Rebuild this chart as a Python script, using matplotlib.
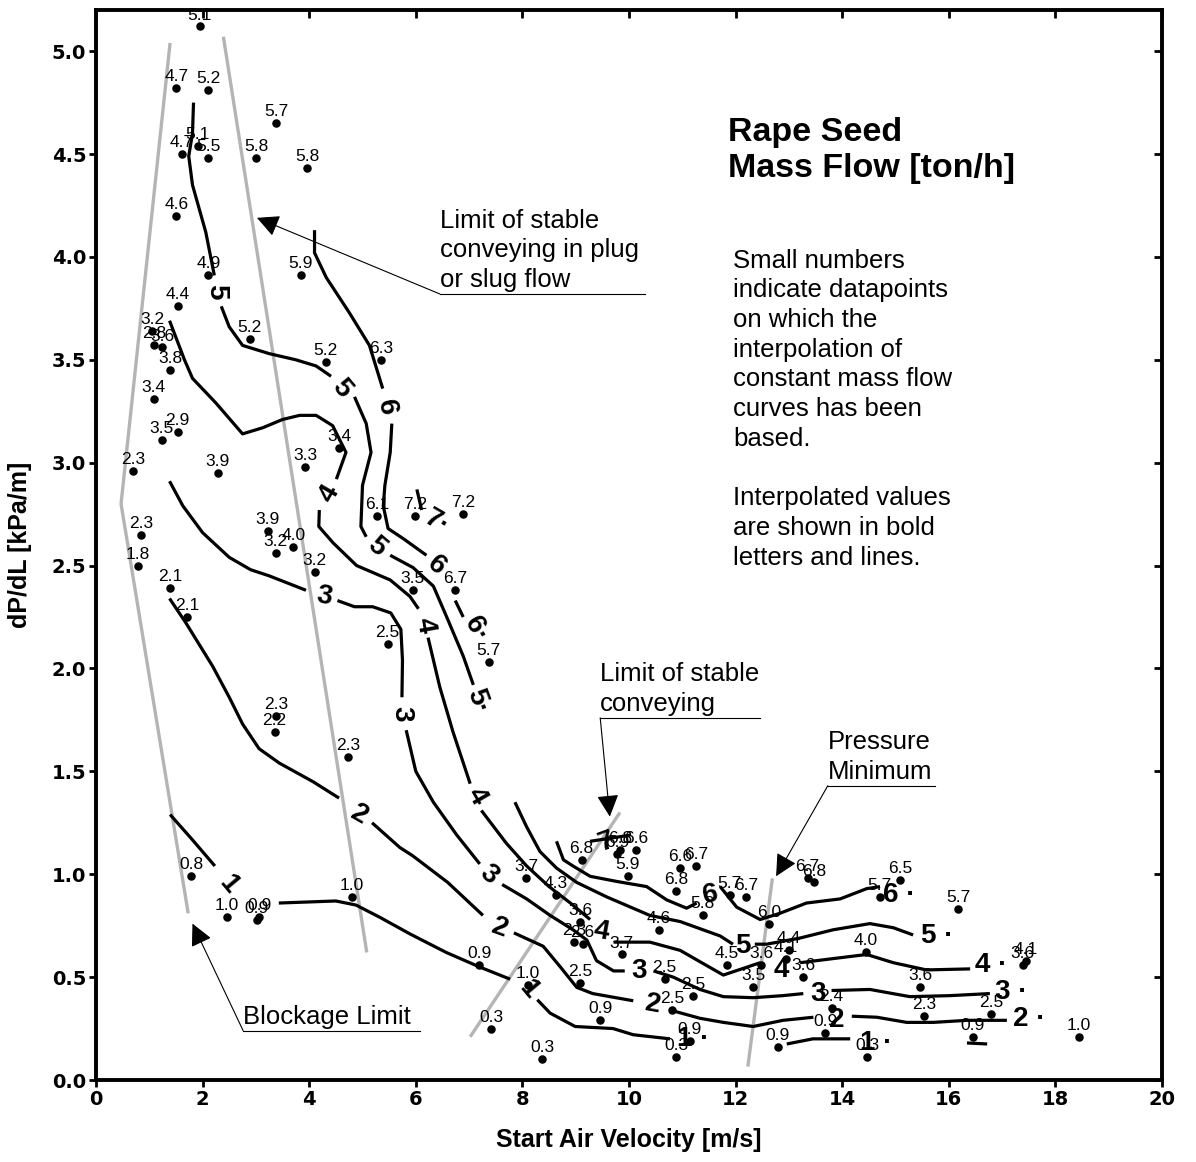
import numpy as np
import matplotlib
matplotlib.use('Agg')
import matplotlib.pyplot as plt

plt.rcParams['font.family'] = ['Liberation Sans', 'DejaVu Sans']
nan = np.nan

# measured data points (velocity, pressure gradient, mass flow label)
pts_x = [1.95, 1.51, 2.10, 3.38, 1.61, 1.91, 2.11, 3.01, 3.96, 1.51, 2.11, 3.84,
         1.54, 1.06, 1.09, 1.24, 1.39, 1.08, 1.23, 1.53, 0.69, 2.28, 3.92, 4.56,
         0.84, 0.79, 3.22, 3.70, 3.37, 4.10, 2.88, 4.31, 5.35, 5.27, 5.98, 6.88,
         5.94, 6.74, 5.47, 7.37, 4.73, 1.39, 1.71, 3.38, 3.35, 1.79, 2.46, 3.02,
         3.06, 4.80, 8.07, 8.63, 9.11, 9.09, 8.97, 9.13, 7.19, 8.10, 7.41, 8.37,
         9.09, 9.46, 9.86, 10.56, 9.98, 9.78, 9.83, 10.14, 11.84, 10.67, 11.21,
         10.81, 11.14, 10.89, 10.96, 11.26, 10.88, 11.38, 11.89, 12.20, 12.63,
         13.35, 13.48, 15.08, 14.70, 16.18, 12.48, 13.00, 12.95, 12.33, 13.27,
         14.45, 15.46, 13.80, 13.68, 15.54, 12.79, 14.47, 16.79, 16.45, 17.39,
         17.45, 18.44]
pts_y = [5.12, 4.82, 4.81, 4.65, 4.50, 4.54, 4.48, 4.48, 4.43, 4.20, 3.91, 3.91,
         3.76, 3.64, 3.57, 3.56, 3.45, 3.31, 3.11, 3.15, 2.96, 2.95, 2.98, 3.07,
         2.65, 2.50, 2.67, 2.59, 2.56, 2.47, 3.60, 3.49, 3.50, 2.74, 2.74, 2.75,
         2.38, 2.38, 2.12, 2.03, 1.57, 2.39, 2.25, 1.77, 1.69, 0.99, 0.79, 0.78,
         0.79, 0.89, 0.98, 0.90, 1.07, 0.77, 0.67, 0.66, 0.56, 0.46, 0.25, 0.10,
         0.47, 0.29, 0.61, 0.73, 0.99, 1.10, 1.12, 1.12, 0.56, 0.49, 0.41,
         0.34, 0.19, 0.11, 1.03, 1.04, 0.92, 0.80, 0.90, 0.89, 0.76,
         0.98, 0.96, 0.97, 0.89, 0.83, 0.56, 0.63, 0.59, 0.45, 0.50,
         0.62, 0.45, 0.35, 0.23, 0.31, 0.16, 0.11, 0.32, 0.21, 0.56,
         0.58, 0.21]
pts_lbl = ['5.1', '4.7', '5.2', '5.7', '4.7', '5.1', '5.5', '5.8', '5.8', '4.6', '4.9', '5.9',
           '4.4', '3.2', '2.8', '3.6', '3.8', '3.4', '3.5', '2.9', '2.3', '3.9', '3.3', '3.4',
           '2.3', '1.8', '3.9', '4.0', '3.2', '3.2', '5.2', '5.2', '6.3', '6.1', '7.2', '7.2',
           '3.5', '6.7', '2.5', '5.7', '2.3', '2.1', '2.1', '2.3', '2.2', '0.8', '1.0', '0.9',
           '0.9', '1.0', '3.7', '4.3', '6.8', '3.6', '2.3', '2.6', '0.9', '1.0', '0.3', '0.3',
           '2.5', '0.9', '3.7', '4.6', '5.9', '6.9', '6.8', '6.6', '4.5', '2.5', '2.5',
           '2.5', '0.9', '0.3', '6.6', '6.7', '6.8', '5.8', '5.7', '6.7', '6.0',
           '6.7', '6.8', '6.5', '5.7', '5.7', '3.6', '4.4', '4.1', '3.5', '3.6',
           '4.0', '3.6', '2.4', '0.9', '2.3', '0.9', '0.3', '2.5', '0.9', '3.6',
           '4.1', '1.0']

# interpolated constant mass flow curves (nan separates pieces around labels)
c1_x = [1.39, 1.80, 2.23, nan, 3.43, 4.50, 4.88, 5.33, 5.89, 6.57, 7.19, 7.77, nan,
        8.28, 8.52, 8.99, 9.70, 10.08, 10.77, nan, 12.96, 13.45, 14.15, nan, 16.34, 16.72]
c1_y = [1.29, 1.17, 1.04, nan, 0.86, 0.87, 0.85, 0.79, 0.71, 0.62, 0.55, 0.49, nan,
        0.39, 0.325, 0.26, 0.25, 0.22, 0.20, nan, 0.175, 0.20, 0.20, nan, 0.18, 0.175]

c2_x = [1.38, 1.69, 2.19, 2.50, 2.75, 3.06, 3.44, 4.07, 4.56, nan,
        5.18, 5.70, 5.94, 6.60, 7.26, nan,
        7.84, 8.39, 8.71, 9.02, 9.32, 10.08, nan,
        10.77, 11.33, 11.77, 12.33, 12.89, 13.46, nan,
        14.18, 14.65, 15.21, 15.71, 16.34, 17.09]
c2_y = [2.34, 2.22, 2.01, 1.86, 1.73, 1.61, 1.54, 1.45, 1.37, nan,
        1.25, 1.13, 1.09, 0.96, 0.80, nan,
        0.715, 0.65, 0.55, 0.45, 0.42, 0.385, nan,
        0.34, 0.30, 0.28, 0.26, 0.29, 0.305, nan,
        0.31, 0.305, 0.28, 0.28, 0.29, 0.29]

c3_x = [1.38, 1.63, 2.00, 2.50, 2.90, 3.25, 3.94, nan,
        4.53, 4.85, 5.19, 5.53, 5.72, 5.75, 5.74, nan,
        5.82, 6.00, 6.33, 6.77, 7.20, nan,
        7.62, 8.08, 8.52, 8.95, 9.21, 9.39, 9.71, 9.92, nan,
        10.46, 10.83, 11.33, 11.77, 12.33, 12.89, 13.27, nan,
        13.80, 14.52, 15.27, 16.02, 16.77]
c3_y = [2.91, 2.79, 2.66, 2.54, 2.48, 2.45, 2.38, nan,
        2.33, 2.30, 2.30, 2.27, 2.19, 2.04, 1.86, nan,
        1.70, 1.50, 1.35, 1.19, 1.05, nan,
        0.95, 0.88, 0.80, 0.73, 0.68, 0.58, 0.53, 0.53, nan,
        0.53, 0.50, 0.44, 0.405, 0.40, 0.41, 0.42, nan,
        0.435, 0.44, 0.405, 0.41, 0.42]

c4_x = [1.38, 1.66, 1.81, 2.25, 2.75, 3.13, 3.50, 3.82, 4.13, 4.44, 4.69, 4.51, nan,
        4.19, 4.18, 4.45, 4.89, 5.52, 5.89, 6.05, nan,
        6.23, 6.45, 6.70, 7.02, nan,
        7.23, 7.70, 8.08, 8.50, 8.90, 9.27, nan,
        9.71, 10.39, 10.96, 11.33, 11.77, 12.46, nan,
        13.21, 13.83, 14.46, 14.96, 15.58, 16.40]
c4_y = [3.69, 3.50, 3.41, 3.29, 3.14, 3.17, 3.21, 3.23, 3.23, 3.18, 3.05, 2.92, nan,
        2.77, 2.69, 2.61, 2.50, 2.43, 2.35, 2.29, nan,
        2.15, 1.91, 1.69, 1.44, nan,
        1.31, 1.15, 1.04, 0.94, 0.86, 0.78, nan,
        0.67, 0.67, 0.63, 0.575, 0.51, 0.57, nan,
        0.57, 0.59, 0.61, 0.57, 0.535, 0.54]

c5_x = [1.83, 1.81, 1.74, 1.81, 2.06, 2.22, nan,
        2.35, 2.50, 2.75, 3.25, 3.75, 4.13, 4.41, nan,
        4.85, 5.07, 5.16, 5.00, 4.97, 5.07, nan,
        5.52, 5.95, 6.33, 6.58, 6.89, 7.08, nan,
        7.86, 8.08, 8.33, 8.64, 9.02, 9.58, 10.39, 10.96, 11.71, 11.95, nan,
        12.36, 12.58, 13.21, 13.83, 14.52, 14.96, 15.33]
c5_y = [4.75, 4.60, 4.49, 4.35, 4.12, 3.91, nan,
        3.76, 3.66, 3.57, 3.53, 3.50, 3.47, 3.42, nan,
        3.32, 3.19, 3.05, 2.89, 2.69, 2.64, nan,
        2.55, 2.49, 2.40, 2.25, 2.06, 1.92, nan,
        1.35, 1.23, 1.11, 1.03, 0.96, 0.89, 0.80, 0.77, 0.70, 0.66, nan,
        0.66, 0.66, 0.69, 0.73, 0.76, 0.74, 0.705]

c6_x = [4.10, 4.10, 4.32, 4.75, 5.13, 5.38, nan,
        5.55, 5.52, 5.42, 5.39, 5.48, 5.77, 6.20, nan,
        6.74, 6.89, nan,
        8.64, 8.77, 8.95, 9.27, 9.77, 10.33, 10.71, 11.08, 11.27, nan,
        11.71, 12.02, 12.46, 12.83, 13.33, 13.96, 14.46, 14.71]
c6_y = [4.13, 4.02, 3.90, 3.73, 3.57, 3.36, nan,
        3.19, 3.05, 2.89, 2.79, 2.68, 2.63, 2.55, nan,
        2.33, 2.25, nan,
        1.16, 1.07, 1.04, 0.99, 0.965, 0.94, 0.875, 0.835, 0.86, nan,
        0.94, 0.84, 0.78, 0.81, 0.86, 0.88, 0.93, 0.94]

c7_x = [6.02, 6.11, nan, 9.27, 10.02]
c7_y = [2.87, 2.77, nan, 1.16, 1.19]

# inline curve labels: x, y, text, rotation
lab_x = [2.48, 8.11, 11.20, 14.64,
         4.94, 7.58, 10.45, 13.90, 17.50,
         4.28, 5.72, 7.36, 10.19, 13.55, 17.17,
         4.38, 6.17, 7.14, 9.49, 12.86, 16.79,
         2.25, 4.60, 5.27, 7.16, 12.14, 15.78,
         5.44, 6.39, 7.13, 11.52, 15.07,
         6.40, 9.58]
lab_y = [0.95, 0.44, 0.20, 0.18,
         1.29, 0.74, 0.365, 0.29, 0.295,
         2.35, 1.78, 1.00, 0.53, 0.42, 0.43,
         2.85, 2.21, 1.38, 0.72, 0.535, 0.56,
         3.83, 3.36, 2.59, 1.84, 0.65, 0.70,
         3.27, 2.50, 2.19, 0.90, 0.90,
         2.71, 1.16]
lab_txt = ['1', '1', '1 \u00b7', '1 \u00b7',
           '2', '2', '2', '2', '2 \u00b7',
           '3', '3', '3', '3', '3', '3 \u00b7',
           '4', '4', '4', '4', '4', '4 \u00b7',
           '5', '5', '5', '5\u00b7', '5', '5 \u00b7',
           '6', '6', '6\u00b7', '6', '6 \u00b7',
           '7\u00b7', '7']
lab_rot = [-50, -50, 0, 0,
           -30, -20, -10, 0, 0,
           -10, -90, -40, 0, 0, 0,
           60, -80, -60, -10, 0, 0,
           -90, -50, -40, -70, 0, 0,
           -80, -40, -60, 10, 0,
           -30, 20]

# grey limit lines
plug_left_x = [1.39, 0.47, 1.73]
plug_left_y = [5.04, 2.80, 0.81]
plug_right_x = [2.39, 5.08]
plug_right_y = [5.07, 0.62]
stable_x = [7.02, 9.83]
stable_y = [0.21, 1.30]
pmin_x = [12.23, 12.69]
pmin_y = [0.065, 0.98]

fig = plt.figure(figsize=(11.96, 11.62), dpi=100)
ax = fig.add_axes([96 / 1196, 82 / 1162, 1066 / 1196, 1070 / 1162])
ax.set_xlim(0, 20)
ax.set_ylim(0, 5.2)

grey = '#b4b4b4'
for gx, gy in [(plug_left_x, plug_left_y), (plug_right_x, plug_right_y),
               (stable_x, stable_y), (pmin_x, pmin_y)]:
    ax.plot(gx, gy, color=grey, lw=2.4, solid_capstyle='butt', zorder=1)

for cx, cy in [(c1_x, c1_y), (c2_x, c2_y), (c3_x, c3_y), (c4_x, c4_y),
               (c5_x, c5_y), (c6_x, c6_y), (c7_x, c7_y)]:
    ax.plot(cx, cy, color='black', lw=2.3, solid_capstyle='butt', zorder=2)

for x, y, t, r in zip(lab_x, lab_y, lab_txt, lab_rot):
    ax.text(x, y, t, rotation=r, ha='center', va='center', fontsize=20,
            fontweight='bold', zorder=3)

ax.scatter(pts_x, pts_y, s=26, color='black', zorder=4)
for x, y, t in zip(pts_x, pts_y, pts_lbl):
    ax.annotate(t, (x, y), xytext=(0, 5), textcoords='offset points',
                ha='center', va='baseline', fontsize=12.5, zorder=5)

# annotations with arrows and underlines
notes = [
    ('Limit of stable\nconveying in plug\nor slug flow', 6.45, 10.30, 3.82, (3.02, 4.19)),
    ('Limit of stable\nconveying', 9.46, 12.46, 1.76, (9.64, 1.28)),
    ('Pressure\nMinimum', 13.73, 15.74, 1.43, (12.76, 0.99)),
    ('Blockage Limit', 2.76, 6.08, 0.24, (1.81, 0.76)),
]
for txt, x0, x1, yu, tip in notes:
    ax.text(x0, yu + 0.01, txt, ha='left', va='bottom', fontsize=18.5,
            linespacing=1.3)
    ax.plot([x0, x1], [yu, yu], color='black', lw=0.8)
    ax.annotate('', xy=tip, xytext=(x0, yu),
                arrowprops=dict(arrowstyle='-|>', color='black', lw=0.8,
                                mutation_scale=34, shrinkA=0, shrinkB=0))

ax.text(11.86, 4.68, 'Rape Seed\nMass Flow [ton/h]', ha='left', va='top',
        fontsize=24.5, fontweight='bold', linespacing=1.2)
ax.text(11.95, 4.04,
        'Small numbers\nindicate datapoints\non which the\ninterpolation of\n'
        'constant mass flow\ncurves has been\nbased.\n\nInterpolated values\n'
        'are shown in bold\nletters and lines.',
        ha='left', va='top', fontsize=18.5, linespacing=1.3)

ax.set_xticks(np.arange(0, 21, 2))
ax.set_yticks(np.arange(0, 5.01, 0.5))
ax.set_xticklabels([str(v) for v in range(0, 21, 2)])
ax.set_yticklabels(['%.1f' % v for v in np.arange(0, 5.01, 0.5)])
for lbl in ax.get_xticklabels() + ax.get_yticklabels():
    lbl.set_fontfamily('DejaVu Sans')
    lbl.set_fontweight('bold')
    lbl.set_fontsize(14)
ax.tick_params(direction='out', length=5, width=2, pad=2)
for s in ax.spines.values():
    s.set_linewidth(2.8)

secx = ax.secondary_xaxis('top')
secx.set_xticks(np.arange(0, 21, 2))
secx.tick_params(direction='in', length=6, width=2, labeltop=False)
secy = ax.secondary_yaxis('right')
secy.set_yticks(np.arange(0, 5.01, 0.5))
secy.tick_params(direction='in', length=6, width=2, labelright=False)

ax.set_xlabel('Start Air Velocity [m/s]', fontsize=18, fontweight='bold', labelpad=14)
ax.set_ylabel('dP/dL [kPa/m]', fontsize=18, fontweight='bold', labelpad=14)

fig.savefig('out.png', dpi=100)
